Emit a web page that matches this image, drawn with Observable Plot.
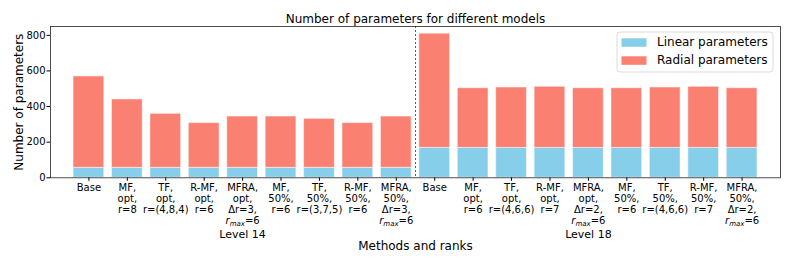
<!DOCTYPE html>
<html><head><meta charset="utf-8">
<script src="https://cdn.jsdelivr.net/npm/d3@7"></script>
<script src="https://cdn.jsdelivr.net/npm/@observablehq/plot@0.6"></script>
<style>body{margin:0;background:#fff} svg{display:block}</style>
</head><body><div id="chart"></div>
<script>
const tickLabels = [
  "Base", "MF,\nopt,\nr=8", "TF,\nopt,\nr=(4,8,4)", "R-MF,\nopt,\nr=6", "MFRA,\nopt,\nΔr=3,\nr_max=6",
  "MF,\n50%,\nr=6", "TF,\n50%,\nr=(3,7,5)", "R-MF,\n50%,\nr=6", "MFRA,\n50%,\nΔr=3,\nr_max=6",
  "Base", "MF,\nopt,\nr=6", "TF,\nopt,\nr=(4,6,6)", "R-MF,\nopt,\nr=7", "MFRA,\nopt,\nΔr=2,\nr_max=6",
  "MF,\n50%,\nr=6", "TF,\n50%,\nr=(4,6,6)", "R-MF,\n50%,\nr=7", "MFRA,\n50%,\nΔr=2,\nr_max=6"
];
const groups = ["Level 14", "Level 18"];
const groupSize = 9;
const series = ["Linear parameters", "Radial parameters"];
const colors = ["#87CEEB", "#FA8072"];
const linear = [56, 56, 56, 56, 56, 56, 56, 56, 56, 168, 168, 168, 168, 168, 168, 168, 168, 168];
const radial = [513, 384, 303, 251, 288, 288, 275, 251, 288, 641, 335, 339, 343, 335, 335, 339, 343, 335];
const yTicks = [0, 200, 400, 600, 800];

const rows = [];
tickLabels.forEach((lab, i) => {
  rows.push({i, s: series[0], y1: 0, y2: linear[i]});
  rows.push({i, s: series[1], y1: linear[i], y2: linear[i] + radial[i]});
});
const groupRows = groups.map((g, k) => ({g, x: k * groupSize + (groupSize - 1) / 2}));
const boundary = [groupSize - 0.5];

function legendMark(index, scales, values, dims) {
  const g = d3.create("svg:g").attr("font-family", "DejaVu Sans").attr("font-size", 12).attr("text-anchor", "start");
  const boxW = 156, boxH = 40;
  const right = dims.width - dims.marginRight - 7;
  const left = right - boxW;
  const top = dims.marginTop + 6;
  g.append("rect").attr("x", left).attr("y", top).attr("width", boxW).attr("height", boxH)
    .attr("rx", 3).attr("fill", "#fff").attr("fill-opacity", 0.8).attr("stroke", "#d0d0d0").attr("stroke-width", 0.8);
  series.forEach((s, k) => {
    g.append("rect").attr("x", left + 4.5).attr("y", top + 6.3 + k * 18).attr("width", 25).attr("height", 8.5)
      .attr("fill", scales.color(s));
    g.append("text").attr("x", left + 40).attr("y", top + 13.8 + k * 18).attr("fill", "#000")
      .attr("text-anchor", "start").text(s);
  });
  return g.node();
}

const plot = Plot.plot({
  width: 793, height: 264,
  marginLeft: 50, marginRight: 13, marginTop: 26, marginBottom: 86.7,
  style: {fontFamily: "DejaVu Sans", fontSize: "10px", color: "#000", background: "#fff"},
  x: {domain: [-1, 18], axis: null},
  y: {domain: [0, 849.5], axis: null},
  color: {domain: series, range: colors},
  marks: [
    Plot.rectY(rows, {x1: d => d.i - 0.4, x2: d => d.i + 0.4, y1: "y1", y2: "y2", fill: "s",
      stroke: "#fff", strokeOpacity: 0.5, strokeWidth: 1}),
    Plot.ruleX(boundary, {stroke: "#333", strokeDasharray: "2,2", strokeWidth: 0.8}),
    Plot.axisY({ticks: yTicks, tickSize: 3.5, tickPadding: 1.5, fontSize: 10, label: null}),
    Plot.axisX({ticks: d3.range(tickLabels.length), tickSize: 3.5, tickFormat: () => "", label: null}),
    Plot.text(tickLabels, {x: (d, i) => i, frameAnchor: "bottom", lineAnchor: "top", dy: 5, lineHeight: 1.1, fontSize: 10}),
    Plot.text(groupRows, {x: "x", text: "g", frameAnchor: "bottom", lineAnchor: "bottom", dy: 60, fontSize: 11}),
    Plot.text(["Methods and ranks"], {frameAnchor: "bottom", lineAnchor: "bottom", dy: 72, fontSize: 12}),
    Plot.text(["Number of parameters for different models"], {frameAnchor: "top", lineAnchor: "bottom", dy: -3.5, fontSize: 12}),
    Plot.text(["Number of parameters"], {frameAnchor: "left", textAnchor: "middle", rotate: -90, lineAnchor: "bottom", dx: -27.3, fontSize: 12}),
    Plot.frame({stroke: "#222", strokeWidth: 0.8}),
    legendMark
  ]
});

// render r_max with italic r and subscript "max"
plot.querySelectorAll("tspan").forEach(t => {
  if (t.textContent === "r_max=6") {
    t.textContent = "";
    const ns = "http://www.w3.org/2000/svg";
    const a = document.createElementNS(ns, "tspan");
    a.setAttribute("font-style", "italic"); a.textContent = "r";
    const b = document.createElementNS(ns, "tspan");
    b.setAttribute("font-style", "italic"); b.setAttribute("font-size", "7px"); b.setAttribute("dy", "2"); b.textContent = "max";
    const c = document.createElementNS(ns, "tspan");
    c.setAttribute("dy", "-2"); c.textContent = "=6";
    t.append(a, b, c);
  }
});

document.getElementById("chart").append(plot);
</script>
</body></html>
